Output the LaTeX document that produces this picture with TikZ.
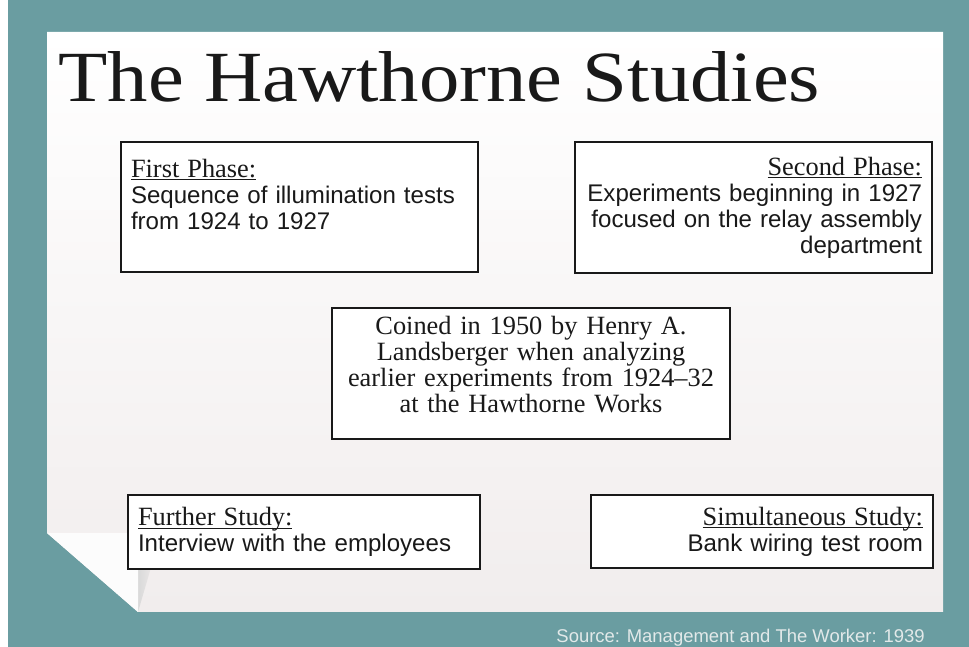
\documentclass[tikz,border=0pt]{standalone}
\usepackage{fontspec}
\setmainfont{Liberation Serif}
\setsansfont{Liberation Sans}
\usepackage{tikz}
\usetikzlibrary{positioning,calc}
\definecolor{hsTeal}{RGB}{106,157,161}
\definecolor{hsPaper}{RGB}{241,237,237}
\definecolor{hsSource}{RGB}{226,233,233}
\definecolor{hsInk}{RGB}{25,25,25}
\newcommand{\phasehead}[1]{{\rmfamily\fontsize{15}{14.8}\selectfont\underline{\raisebox{0pt}[\height][0pt]{#1}}}}

\begin{document}
\begin{tikzpicture}[
  box/.style={draw=hsInk, line width=1.1pt, fill=white, text=hsInk, inner xsep=0.2cm, inner ysep=0pt,
    font=\sffamily\fontsize{13.7}{14.8}\selectfont},
  serifbox/.style={box, font=\rmfamily\fontsize{15}{14.8}\selectfont},
]
\useasboundingbox (0,0) rectangle (19.38,12.94);
% background and paper sheet
\fill[hsTeal] (0,0) rectangle (19.38,12.94);
\fill[white] (0,0) rectangle (0.16,12.94);
\shade[top color=white, bottom color=hsPaper]
  (0.94,12.30) -- (18.86,12.30) -- (18.86,0.70) -- (2.76,0.70) -- (0.94,2.28) -- cycle;
% folded corner
\shade[left color=gray!30, right color=hsPaper] (2.76,2.0) -- (3.14,2.0) -- (2.76,0.70) -- cycle;
\fill[white!98!gray] (0.94,2.28) -- (2.76,2.28) -- (2.76,0.70) -- cycle;
% title
\node[anchor=base west, inner sep=0pt, text=hsInk, font=\rmfamily\fontsize{41}{41}\selectfont] (title)
  at (1.16,10.90) {\scalebox{1.12}[1]{The Hawthorne Studies}};
% phases
\node[box, text width=6.74cm, minimum height=2.60cm, align=left] (first) at (5.99,8.80)
  {\phasehead{First Phase:}\\Sequence of illumination tests\\from 1924 to 1927\\~};
\node[box, text width=6.74cm, minimum height=2.62cm, align=right] (second) at (15.07,8.79)
  {\phasehead{Second Phase:}\\Experiments beginning in 1927\\focused on the relay assembly\\department};
\node[serifbox, text width=7.56cm, minimum height=2.62cm, align=center] (coined) at (10.62,5.47)
  {Coined in 1950 by Henry A.\\Landsberger when analyzing\\earlier experiments from 1924--32\\at the Hawthorne Works\rule[-0.38cm]{0pt}{0pt}};
% studies
\node[box, text width=6.64cm, minimum height=1.48cm, align=left] (further) at (6.08,2.30)
  {\phasehead{Further Study:}\\Interview with the employees};
\node[box, text width=6.44cm, minimum height=1.46cm, align=right] (simult) at (15.24,2.31)
  {\phasehead{Simultaneous Study:}\\Bank wiring test room};
% source
\node[anchor=base east, inner sep=0pt, text=hsSource, font=\sffamily\fontsize{10.5}{12}\selectfont] (source)
  at (18.50,0.08) {Source: Management and The Worker: 1939};
\end{tikzpicture}
\end{document}
